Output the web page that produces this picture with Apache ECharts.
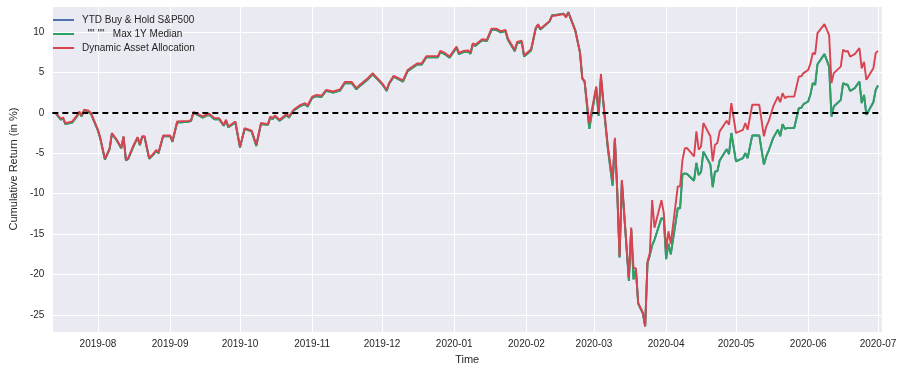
<!DOCTYPE html>
<html>
<head>
<meta charset="utf-8">
<script src="https://cdn.jsdelivr.net/npm/echarts@6/dist/echarts.min.js"></script>
<style>
html,body{margin:0;padding:0;background:#fff;}
#chart{width:903px;height:370px;}
</style>
</head>
<body>
<div id="chart"></div>
<script>
const dates = [
'2019-07-14','2019-07-16','2019-07-17','2019-07-18','2019-07-21','2019-07-23','2019-07-24','2019-07-25','2019-07-26','2019-07-28','2019-07-29',
'2019-08-01','2019-08-02','2019-08-04','2019-08-06','2019-08-07','2019-08-09','2019-08-11','2019-08-12','2019-08-13','2019-08-14','2019-08-16','2019-08-18','2019-08-19','2019-08-20','2019-08-21','2019-08-23','2019-08-25','2019-08-26','2019-08-27','2019-08-29',
'2019-09-01','2019-09-02','2019-09-04','2019-09-09','2019-09-10','2019-09-11','2019-09-13','2019-09-15','2019-09-17','2019-09-18','2019-09-20','2019-09-22','2019-09-24','2019-09-25','2019-09-26','2019-09-29',
'2019-10-01','2019-10-03','2019-10-06','2019-10-08','2019-10-10','2019-10-13','2019-10-14','2019-10-15','2019-10-16','2019-10-18','2019-10-21','2019-10-22','2019-10-24','2019-10-27','2019-10-29','2019-10-30',
'2019-11-01','2019-11-03','2019-11-05','2019-11-07','2019-11-10','2019-11-13','2019-11-15','2019-11-18','2019-11-20','2019-11-21','2019-11-25','2019-11-27','2019-11-28',
'2019-12-01','2019-12-03','2019-12-04','2019-12-06','2019-12-10','2019-12-12','2019-12-16','2019-12-18','2019-12-20','2019-12-25','2019-12-26','2019-12-28','2019-12-30',
'2020-01-02','2020-01-03','2020-01-05','2020-01-07','2020-01-08','2020-01-09','2020-01-10','2020-01-13','2020-01-15','2020-01-17','2020-01-19','2020-01-21','2020-01-23','2020-01-24','2020-01-27','2020-01-28','2020-01-30','2020-01-31',
'2020-02-03','2020-02-05','2020-02-06','2020-02-07','2020-02-11','2020-02-12','2020-02-13','2020-02-17','2020-02-18','2020-02-19','2020-02-22','2020-02-24','2020-02-25','2020-02-26','2020-02-28',
'2020-03-02','2020-03-03','2020-03-04','2020-03-05','2020-03-07','2020-03-09','2020-03-10','2020-03-11','2020-03-12','2020-03-13','2020-03-14','2020-03-16','2020-03-17','2020-03-18','2020-03-19','2020-03-20','2020-03-22','2020-03-23','2020-03-24','2020-03-25','2020-03-26','2020-03-27','2020-03-30','2020-03-31',
'2020-04-01','2020-04-02','2020-04-03','2020-04-06','2020-04-07','2020-04-08','2020-04-09','2020-04-10','2020-04-13','2020-04-14','2020-04-15','2020-04-16','2020-04-17','2020-04-20','2020-04-21','2020-04-22','2020-04-23','2020-04-24','2020-04-27','2020-04-28','2020-04-29',
'2020-05-01','2020-05-04','2020-05-05','2020-05-06','2020-05-08','2020-05-11','2020-05-13','2020-05-14','2020-05-15','2020-05-17','2020-05-19','2020-05-20','2020-05-21','2020-05-22','2020-05-23','2020-05-26','2020-05-28','2020-05-29','2020-05-30',
'2020-06-01','2020-06-02','2020-06-03','2020-06-04','2020-06-05','2020-06-08','2020-06-10','2020-06-11','2020-06-12','2020-06-15','2020-06-16','2020-06-17','2020-06-18','2020-06-19','2020-06-21','2020-06-23','2020-06-24','2020-06-25','2020-06-26','2020-06-29','2020-06-30',
'2020-07-01'
];

const dynamicValues = [
0.0,-0.74,-0.58,-1.27,-1.07,-0.33,0.16,-0.33,0.37,0.25,-0.04,
-2.1,-3.1,-5.7,-4.4,-2.5,-3.3,-4.3,-2.9,-5.8,-5.6,-4.2,-3.0,-3.9,-2.9,-2.9,-5.6,-5.0,-4.6,-4.9,-2.8,
-2.8,-3.5,-1.07,-1.0,-0.9,0.1,-0.16,-0.45,-0.16,-0.16,-0.66,-0.66,-1.5,-0.86,-1.7,-1.07,
-4.2,-1.9,-2.2,-3.95,-1.27,-1.4,-0.45,-0.66,-0.33,-0.86,-0.16,-0.45,0.37,0.99,1.2,0.9,
2.0,2.2,2.1,2.84,2.63,2.9,3.8,3.8,3.05,3.33,4.3,4.9,4.57,
3.67,2.84,3.67,4.57,4.0,5.3,6.1,6.1,7.0,7.0,7.65,7.4,6.95,
8.2,7.4,7.65,7.7,7.45,8.6,8.4,9.1,9.0,10.4,10.4,10.1,10.25,9.2,7.75,8.77,8.9,7.1,
7.86,10.5,10.95,10.4,11.36,12.0,12.0,12.2,11.8,12.4,10.1,7.4,4.2,3.95,-1.3,
3.25,0.0,4.8,1.6,-4.2,-8.3,-3.1,-9.5,-17.7,-8.3,-12.4,-20.4,-14.2,-19.2,-19.2,-23.5,-24.7,-26.4,-18.4,-17.3,-10.8,-14.2,-10.8,-12.4,
-16.9,-14.65,-16.2,-9.1,-9.1,-5.9,-4.4,-4.36,-5.4,-2.3,-4.57,-4.16,-1.27,-2.9,-6.0,-3.95,-3.74,-2.3,-0.99,-1.48,1.2,
-2.5,-2.1,-1.27,-2.1,0.99,0.99,-2.9,-1.7,-1.07,0.78,2.0,1.3,2.43,1.8,2.0,2.0,4.5,4.5,4.9,
5.3,6.1,7.4,7.25,9.84,10.95,9.6,3.67,4.9,5.7,7.8,7.57,7.65,6.95,7.25,8.0,5.5,6.3,4.07,5.5,7.37,
7.65
];

const medianValues = [
-0.1,-0.85,-0.7,-1.4,-1.2,-0.45,0.05,-0.45,0.25,0.15,-0.15,
-2.2,-3.2,-5.8,-4.5,-2.6,-3.4,-4.4,-3.0,-5.9,-5.7,-4.3,-3.1,-4.0,-3.0,-3.0,-5.7,-5.1,-4.7,-5.0,-2.9,
-2.9,-3.6,-1.2,-1.1,-1.0,0.0,-0.3,-0.6,-0.3,-0.3,-0.8,-0.8,-1.6,-1.0,-1.8,-1.2,
-4.3,-2.0,-2.3,-4.1,-1.4,-1.5,-0.6,-0.8,-0.45,-1.0,-0.3,-0.6,0.25,0.85,1.05,0.75,
1.85,2.05,1.95,2.7,2.5,2.75,3.65,3.65,2.9,3.2,4.15,4.75,4.45,
3.55,2.7,3.55,4.45,3.85,5.15,5.95,5.95,6.85,6.85,7.5,7.25,6.8,
8.05,7.25,7.5,7.55,7.3,8.45,8.25,8.95,8.85,10.25,10.25,9.95,10.1,9.05,7.6,8.6,8.75,6.95,
7.7,10.4,10.85,10.3,11.3,12.05,12.05,12.25,11.85,12.45,10.2,7.5,4.3,3.8,-2.0,
3.1,-0.4,4.3,1.3,-4.5,-9.0,-3.3,-9.7,-17.9,-8.5,-12.6,-20.8,-14.4,-20.6,-19.3,-23.6,-24.8,-26.4,-18.6,-17.6,-16.4,-15.7,-13.0,-13.2,
-18.1,-16.2,-17.5,-11.8,-11.8,-7.65,-7.5,-7.57,-8.4,-6.2,-7.7,-7.3,-4.8,-6.4,-9.2,-7.24,-7.24,-5.9,-4.5,-5.1,-2.5,
-6.0,-5.6,-4.98,-5.6,-2.8,-2.8,-6.4,-5.4,-4.7,-3.1,-2.1,-2.9,-1.4,-1.98,-1.9,-1.9,0.58,0.58,1.07,
1.4,2.3,3.67,3.46,6.0,7.25,5.7,-0.45,0.78,1.6,3.67,3.5,3.46,2.7,3.05,3.86,1.2,2.2,-0.25,1.3,2.84,
3.37
];

// Buy & Hold is drawn exactly under the median line in the reference
const buyHoldValues = [
-0.1,-0.85,-0.7,-1.4,-1.2,-0.45,0.05,-0.45,0.25,0.15,-0.15,
-2.2,-3.2,-5.8,-4.5,-2.6,-3.4,-4.4,-3.0,-5.9,-5.7,-4.3,-3.1,-4.0,-3.0,-3.0,-5.7,-5.1,-4.7,-5.0,-2.9,
-2.9,-3.6,-1.2,-1.1,-1.0,0.0,-0.3,-0.6,-0.3,-0.3,-0.8,-0.8,-1.6,-1.0,-1.8,-1.2,
-4.3,-2.0,-2.3,-4.1,-1.4,-1.5,-0.6,-0.8,-0.45,-1.0,-0.3,-0.6,0.25,0.85,1.05,0.75,
1.85,2.05,1.95,2.7,2.5,2.75,3.65,3.65,2.9,3.2,4.15,4.75,4.45,
3.55,2.7,3.55,4.45,3.85,5.15,5.95,5.95,6.85,6.85,7.5,7.25,6.8,
8.05,7.25,7.5,7.55,7.3,8.45,8.25,8.95,8.85,10.25,10.25,9.95,10.1,9.05,7.6,8.6,8.75,6.95,
7.7,10.4,10.85,10.3,11.3,12.05,12.05,12.25,11.85,12.45,10.2,7.5,4.3,3.8,-2.0,
3.1,-0.4,4.3,1.3,-4.5,-9.0,-3.3,-9.7,-17.9,-8.5,-12.6,-20.8,-14.4,-20.6,-19.3,-23.6,-24.8,-26.4,-18.6,-17.6,-16.4,-15.7,-13.0,-13.2,
-18.1,-16.2,-17.5,-11.8,-11.8,-7.65,-7.5,-7.57,-8.4,-6.2,-7.7,-7.3,-4.8,-6.4,-9.2,-7.24,-7.24,-5.9,-4.5,-5.1,-2.5,
-6.0,-5.6,-4.98,-5.6,-2.8,-2.8,-6.4,-5.4,-4.7,-3.1,-2.1,-2.9,-1.4,-1.98,-1.9,-1.9,0.58,0.58,1.07,
1.4,2.3,3.67,3.46,6.0,7.25,5.7,-0.45,0.78,1.6,3.67,3.5,3.46,2.7,3.05,3.86,1.2,2.2,-0.25,1.3,2.84,
3.37
];

const seriesNames = ['YTD Buy & Hold S&P500', '  "" ""   Max 1Y Median', 'Dynamic Asset Allocation'];
const seriesColors = ['#4c72b0', '#2fa260', '#d8434f'];
const xAxisName = 'Time';
const yAxisName = 'Cumulative Return (in %)';

function pairs(vals){ return dates.map((d,i)=>[d, vals[i]]); }
function fmtMonth(v){
  const d = new Date(v);
  return d.getFullYear() + '-' + String(d.getMonth()+1).padStart(2,'0');
}

const FONT = '"Liberation Sans", Arial, sans-serif';
const chart = echarts.init(document.getElementById('chart'), null, {renderer:'canvas'});
const allValues = [buyHoldValues, medianValues, dynamicValues];
chart.setOption({
  animation: false,
  backgroundColor: '#ffffff',
  textStyle: {fontFamily: FONT},
  grid: {left: 45, right: 21, top: 6, bottom: 37, show: true, backgroundColor: '#eaeaf2', borderWidth: 0},
  legend: {
    orient: 'vertical', left: 53, top: 13, padding: 0,
    icon: 'rect', itemWidth: 21, itemHeight: 2, itemGap: 0,
    textStyle: {fontSize: 10, lineHeight: 14, height: 14, color: '#262626', fontFamily: FONT, padding: [0,0,0,3]},
    data: seriesNames.map((n,i)=>({name: n, itemStyle: {color: seriesColors[i]}}))
  },
  xAxis: {
    type: 'time',
    min: '2019-07-12 10:00:00', max: '2020-07-02 17:00:00',
    minInterval: 28*86400000, maxInterval: 31*86400000,
    name: xAxisName, nameLocation: 'middle', nameGap: 22,
    nameTextStyle: {fontSize: 11, color: '#262626', fontFamily: FONT},
    axisLine: {show: false}, axisTick: {show: false},
    axisLabel: {fontSize: 10, color: '#262626', margin: 7, formatter: fmtMonth, showMinLabel: false, showMaxLabel: false, hideOverlap: false},
    splitLine: {show: true, lineStyle: {color: '#ffffff', width: 1}}
  },
  yAxis: {
    type: 'value', min: -27.1, max: 13.2, splitNumber: 8,
    name: yAxisName, nameLocation: 'middle', nameGap: 33,
    nameTextStyle: {fontSize: 11, color: '#262626', fontFamily: FONT},
    axisLine: {show: false}, axisTick: {show: false},
    axisLabel: {fontSize: 10, color: '#262626', margin: 8, showMinLabel: false, showMaxLabel: false},
    splitLine: {show: true, lineStyle: {color: '#ffffff', width: 1}}
  },
  series: seriesNames.map((n,i)=>({
    name: n, type: 'line', data: pairs(allValues[i]),
    symbol: 'none', showSymbol: false,
    lineStyle: {color: seriesColors[i], width: 1.9},
    itemStyle: {color: seriesColors[i]},
    z: 2 + i,
    markLine: i === 2 ? {
      silent: true, symbol: ['none','none'], label: {show: false},
      lineStyle: {color: '#000000', type: [6,4], width: 1.8},
      data: [{yAxis: 0}], z: 10
    } : undefined
  }))
});
</script>
</body>
</html>
